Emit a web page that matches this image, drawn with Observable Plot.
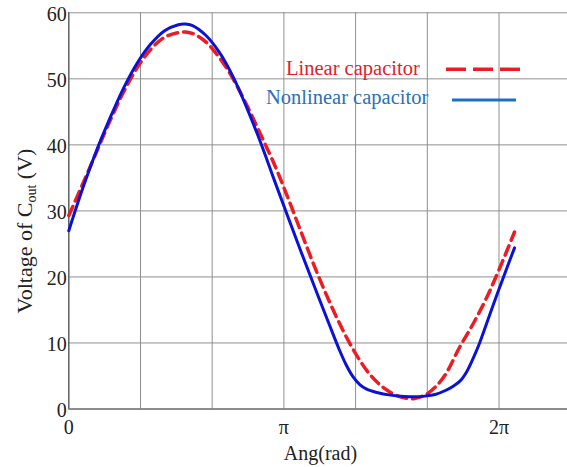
<!DOCTYPE html>
<html><head><meta charset="utf-8">
<script src="https://cdn.jsdelivr.net/npm/d3@7"></script>
<script src="https://cdn.jsdelivr.net/npm/@observablehq/plot@0.6"></script>
<style>
body{margin:0;background:#fff;overflow:hidden;}
svg, svg text{font-family:"Liberation Serif","Times New Roman",serif !important;}
</style>
</head><body><div id="chart"></div>
<script>
const PI = Math.PI;

// Nonlinear capacitor (blue solid)
const nonlinearAng = [0, 0.2, 0.4, 0.6, 0.8, 1.0, 1.2, 1.4, 1.6, 1.7, 1.8, 2.0, 2.2, 2.4, 2.6, 2.8, 3.0, 3.2, 3.4, 3.6, 3.8, 3.95, 4.05, 4.15, 4.25, 4.35, 4.5, 4.7, 4.9, 5.05, 5.2, 5.35, 5.5, 5.62, 5.72, 5.82, 5.92, 6.0, 6.2, 6.4, 6.51];
const nonlinearV   = [27.0, 33.3, 39.0, 44.0, 48.6, 52.4, 55.3, 57.3, 58.2, 58.3, 58.1, 56.6, 54.0, 50.3, 45.6, 40.4, 34.7, 29.1, 23.6, 18.2, 12.9, 9.0, 6.7, 4.9, 3.7, 3.0, 2.5, 2.1, 1.9, 1.85, 1.95, 2.2, 2.8, 3.5, 4.3, 5.8, 8.0, 10.0, 15.8, 21.4, 24.4];

// Linear capacitor (red dashed)
const linearAng = [0, 0.2, 0.4, 0.6, 0.8, 1.0, 1.2, 1.4, 1.6, 1.7, 1.8, 2.0, 2.2, 2.4, 2.6, 2.8, 3.0, 3.2, 3.4, 3.6, 3.8, 4.0, 4.2, 4.4, 4.6, 4.8, 4.95, 5.05, 5.2, 5.35, 5.5, 5.7, 5.9, 6.1, 6.3, 6.51];
const linearV   = [29.3, 34.0, 38.8, 43.6, 48.0, 51.7, 54.5, 56.3, 57.0, 57.1, 56.9, 55.6, 53.2, 50.0, 46.0, 41.6, 37.1, 32.0, 26.6, 21.3, 16.4, 12.0, 8.2, 5.2, 3.2, 2.0, 1.6, 1.6, 2.1, 3.3, 5.2, 9.2, 12.8, 16.8, 21.5, 26.8];

const xTickValues = [0, PI, 2 * PI];
const xTickLabels = ["0", "π", "2π"];
const xGrid = [0, 1, 2, 3, 4, 5, 6].map(k => k * PI / 3);
const yTicks = [0, 10, 20, 30, 40, 50, 60];

const seriesNames = ["Linear capacitor", "Nonlinear capacitor"];

const linearData = linearAng.map((a, i) => ({ang: a, v: linearV[i]}));
const nonlinearData = nonlinearAng.map((a, i) => ({ang: a, v: nonlinearV[i]}));

const W = 567, H = 467;
const mL = 68.3, mT = 12.3, mB = 58.5;
const xMax = (W - mL) / (71.7 * 3 / PI);
const FONT = "'Liberation Serif', 'Times New Roman', serif";

const chart = Plot.plot({
  width: W, height: H,
  marginLeft: mL, marginRight: 0, marginTop: mT, marginBottom: mB,
  x: {domain: [0, xMax]},
  y: {domain: [0, 60]},
  style: {fontFamily: FONT, background: "#fff"},
  marks: [
    Plot.gridX(xGrid, {stroke: "#8f8f8f", strokeOpacity: 1, strokeWidth: 1}),
    Plot.gridY(yTicks, {stroke: "#8f8f8f", strokeOpacity: 1, strokeWidth: 1}),
    Plot.ruleX([0], {stroke: "#555", strokeWidth: 1.2}),
    Plot.ruleY([0], {stroke: "#555", strokeWidth: 1.2}),
    Plot.axisY(yTicks, {tickSize: 0, tickPadding: 2, fontSize: 20, dy: 2, label: null, fill: "#222"}),
    Plot.axisX(xTickValues, {tickSize: 0, tickPadding: 11, fontSize: 20, label: null, fill: "#222",
      tickFormat: d => xTickLabels[xTickValues.indexOf(d)]}),
    Plot.line(linearData, {x: "ang", y: "v", stroke: "#ec1c24", strokeWidth: 3.5, strokeDasharray: "10,6", curve: "catmull-rom"}),
    Plot.line(nonlinearData, {x: "ang", y: "v", stroke: "#0b12d6", strokeWidth: 3, curve: "catmull-rom"})
  ]
});

document.getElementById("chart").appendChild(chart);

const svg = d3.select(chart);
svg.append("text")
  .attr("x", 320.5).attr("y", 460)
  .attr("text-anchor", "middle").attr("font-family", FONT)
  .attr("font-size", 20).attr("fill", "#222")
  .text("Ang(rad)");

const yl = svg.append("text")
  .attr("transform", "translate(32,231) rotate(-90)")
  .attr("text-anchor", "middle").attr("font-family", FONT)
  .attr("font-size", 22).attr("fill", "#222");
yl.append("tspan").text("Voltage of C");
yl.append("tspan").attr("font-size", 14).attr("dy", 4).text("out");
yl.append("tspan").attr("dy", -4).text(" (V)");

const leg = svg.append("g").attr("font-family", FONT).attr("text-anchor", "start");
leg.append("text").attr("x", 286).attr("y", 74.5).attr("font-size", 20.5)
  .attr("text-anchor", "start").attr("fill", "#e3202a").text(seriesNames[0]);
leg.append("line").attr("x1", 446).attr("x2", 523).attr("y1", 69.3).attr("y2", 69.3)
  .attr("stroke", "#ec1c24").attr("stroke-width", 3.5).attr("stroke-dasharray", "20,7");
leg.append("text").attr("x", 266).attr("y", 103.5).attr("font-size", 20.5)
  .attr("text-anchor", "start").attr("fill", "#2b70b8").text(seriesNames[1]);
leg.append("line").attr("x1", 452).attr("x2", 516).attr("y1", 100).attr("y2", 100)
  .attr("stroke", "#1f6fc0").attr("stroke-width", 3);
</script>
</body></html>
